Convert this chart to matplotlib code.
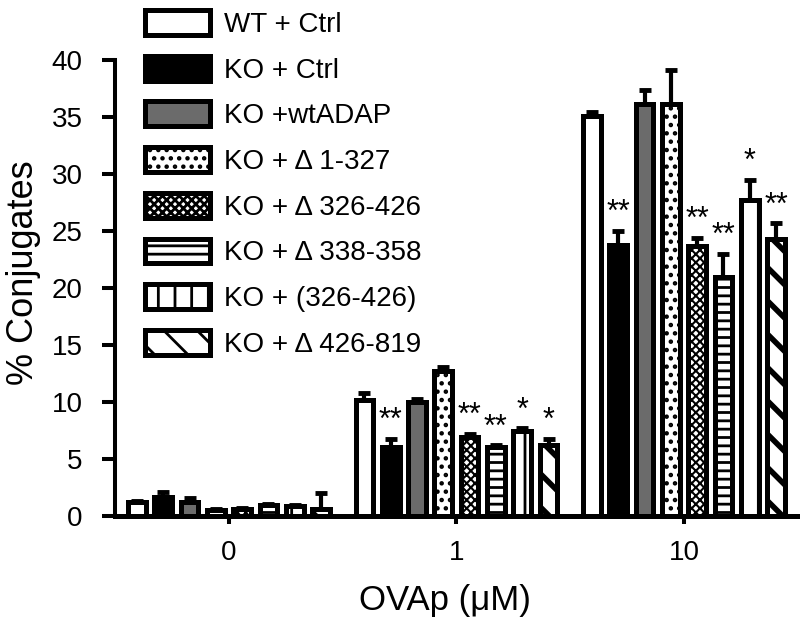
import numpy as np
import matplotlib
matplotlib.use('Agg')
import matplotlib.pyplot as plt

plt.rcParams['font.family'] = ['Liberation Sans', 'DejaVu Sans']
plt.rcParams['hatch.linewidth'] = 2.0

# data
doses = ['0', '1', '10']
groups = ['WT + Ctrl', 'KO + Ctrl', 'KO +wtADAP', 'KO + Δ 1-327',
          'KO + Δ 326-426', 'KO + Δ 338-358', 'KO + (326-426)', 'KO + Δ 426-819']
means = [
    [1.2, 1.7, 1.2, 0.5, 0.6, 1.0, 0.9, 0.6],
    [10.2, 6.1, 10.0, 12.7, 6.9, 6.1, 7.5, 6.2],
    [35.1, 23.8, 36.2, 36.2, 23.7, 21.0, 27.7, 24.3],
]
errs = [
    [0.1, 0.4, 0.4, 0.1, 0.1, 0.1, 0.1, 1.4],
    [0.6, 0.7, 0.3, 0.4, 0.3, 0.1, 0.2, 0.6],
    [0.4, 1.2, 1.2, 2.9, 0.7, 2.0, 1.8, 1.4],
]
stars = [
    ['', '', '', '', '', '', '', ''],
    ['', '**', '', '', '**', '**', '*', '*'],
    ['', '**', '', '', '**', '**', '*', '**'],
]

faces = ['white', 'black', '#6b6b6b', 'white', 'white', 'white', 'white', 'white']
hatches = [None, None, None, '..', 'xxxx', '--', '|', '\\']
hatch_lw = [2, 2, 2, 2, 1.5, 2, 2, 4]

means = np.array(means)
errs = np.array(errs)

fig = plt.figure(figsize=(8, 6.34), dpi=100)
ax = fig.add_axes([0.144, 0.186, 0.856, 0.719])

x = np.arange(len(doses))
step = 0.1156
width = 0.078
handles = []
for i, name in enumerate(groups):
    pos = x + (i - 3.5) * step
    bars = ax.bar(pos, means[:, i], width, color=faces[i], edgecolor='black',
                  linewidth=3.6, hatch=hatches[i], label=name, zorder=3)
    for b in bars:
        if hasattr(b, 'set_hatch_linewidth'):
            b.set_hatch_linewidth(hatch_lw[i])
    ax.errorbar(pos, means[:, i], yerr=[np.zeros(3), errs[:, i]], fmt='none',
                ecolor='black', elinewidth=3, capsize=4, capthick=3.5, zorder=2)
    for j in range(len(doses)):
        if stars[j][i]:
            ax.annotate(stars[j][i], (pos[j], means[j, i] + errs[j, i]),
                        xytext=(0, 2), textcoords='offset points',
                        ha='center', va='bottom', fontsize=22)
    handles.append(bars)

ax.set_xlim(-0.5, 2.51)
ax.set_ylim(0, 40)
ax.set_yticks(np.arange(0, 41, 5))
ax.set_xticks(x)
ax.set_xticklabels(doses)
ax.spines['top'].set_visible(False)
ax.spines['right'].set_visible(False)
ax.spines['left'].set_linewidth(2.9)
ax.spines['bottom'].set_linewidth(3.6)
ax.tick_params(axis='y', length=9.5, width=2.9, labelsize=20, pad=14)
ax.tick_params(axis='x', length=6, width=2.9, labelsize=20, pad=11)
ax.set_ylabel('% Conjugates', fontsize=26)
ax.set_xlabel('OVAp (μM)', fontsize=25)
ax.yaxis.set_label_coords(-0.108, 0.533)
ax.xaxis.set_label_coords(0.482, -0.148)

leg = fig.legend(handles=handles, labels=groups, loc='upper left',
                 bbox_to_anchor=(0.157, 1.015), frameon=False, fontsize=20,
                 handlelength=2.34, handleheight=1.0, labelspacing=0.64,
                 handletextpad=0.5, borderpad=0.2)
for p in leg.get_patches():
    p.set_linewidth(3.6)

fig.savefig('out.png', dpi=100)
